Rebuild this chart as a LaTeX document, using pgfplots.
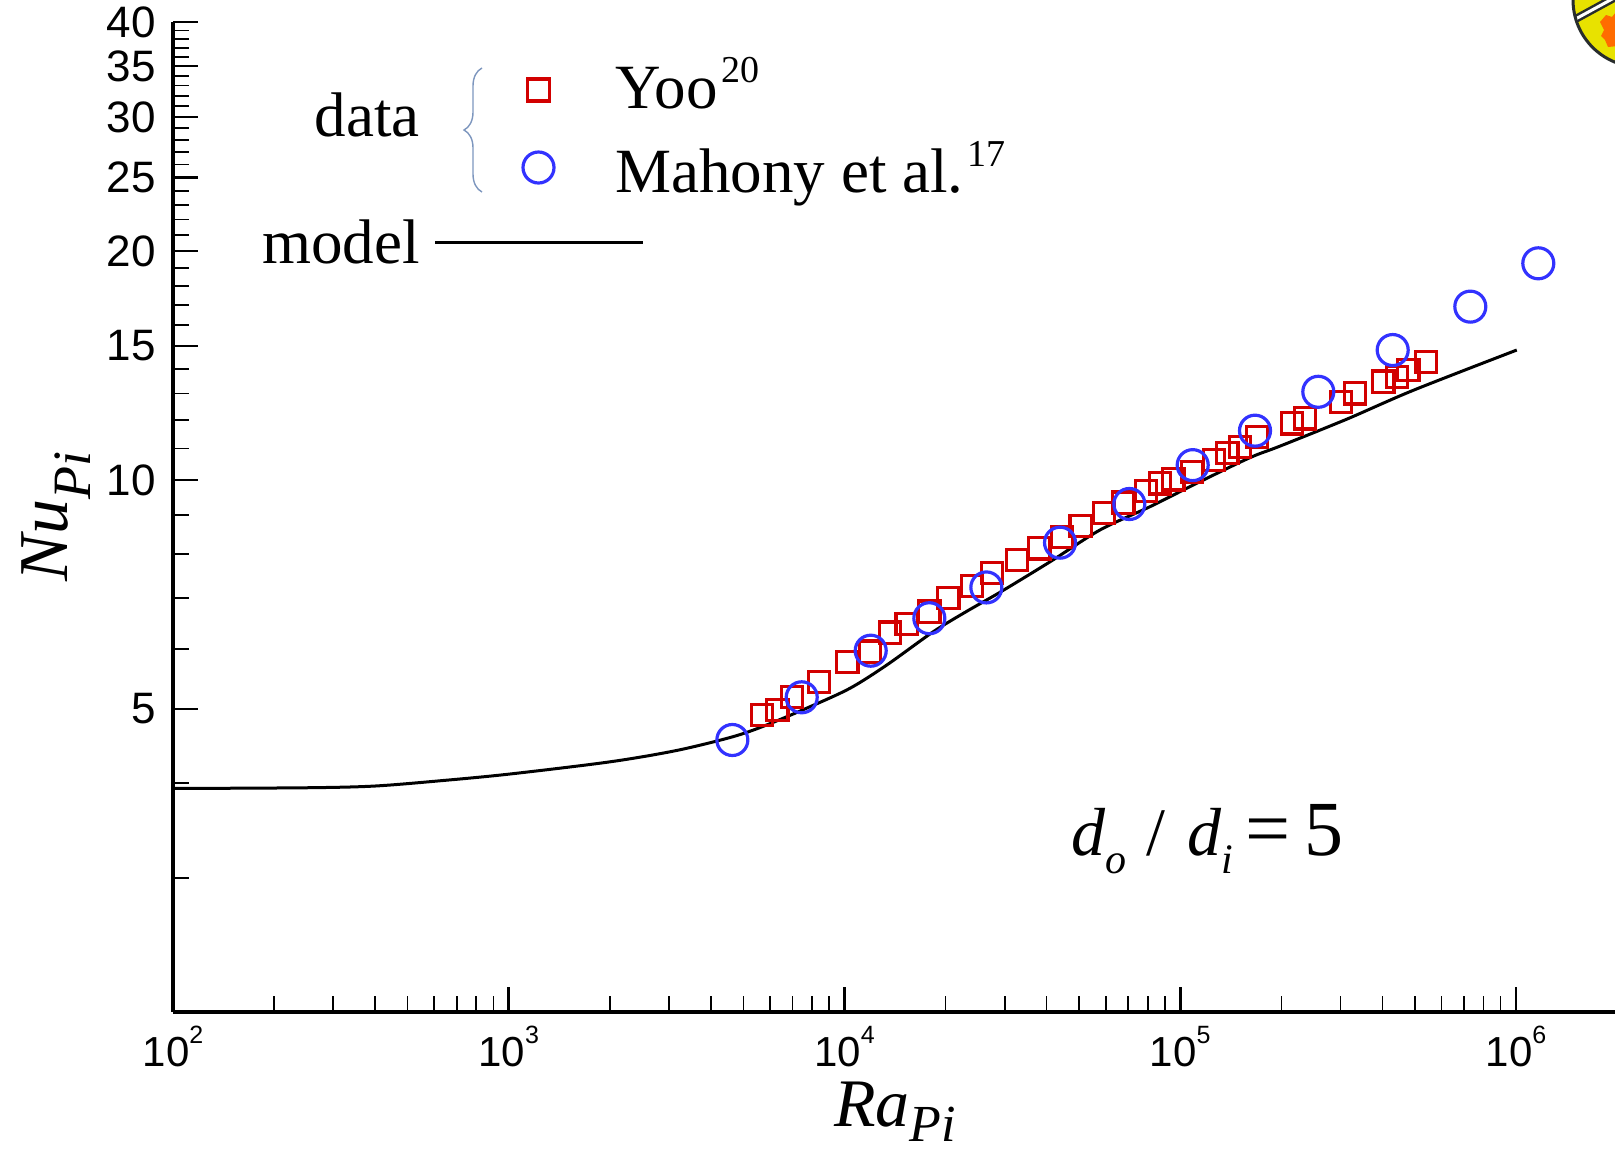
\documentclass[border=0pt]{standalone}
\usepackage{fontspec}
\setmainfont{Liberation Serif}
\newfontfamily\arialfont{Liberation Sans}
\usepackage{pgfplots}
\pgfplotsset{compat=1.18}
\usetikzlibrary{decorations.pathreplacing}

\definecolor{yoored}{RGB}{210,0,0}
\definecolor{mahblue}{RGB}{50,50,255}
\definecolor{bracecol}{RGB}{125,150,190}
\definecolor{crestyellow}{RGB}{232,226,0}
\definecolor{crestdark}{RGB}{40,45,45}

% power-of-ten tick label in the sans face
\newcommand{\tenpow}[1]{10\raisebox{0.55em}{\fontsize{12.5}{12.5}\selectfont #1}}

% Yoo: Ra_Pi, Nu_Pi
\pgfplotstableread{
ra      nu
5668    4.911
6308    4.984
6961    5.189
8398    5.422
10193   5.769
11910   5.947
13657   6.299
15317   6.467
17890   6.713
20380   6.991
23920   7.256
27440   7.542
32570   7.850
38040   8.131
44360   8.408
50510   8.700
59290   9.043
67680   9.336
79070   9.681
87010   9.90
95340   10.02
108170  10.25
126050  10.62
138070  10.86
150650  11.06
168930  11.38
214720  11.87
235200  12.05
300600  12.67
331500  13.00
402500  13.47
441300  13.67
477800  13.95
539500  14.30
}\yoo

% Mahony et al.: Ra_Pi, Nu_Pi
\pgfplotstableread{
ra       nu
4634     4.552
7457     5.180
11967    5.965
17890    6.581
26450    7.224
43840    8.272
70520    9.299
108900   10.46
166950   11.61
257700   13.06
429200   14.82
730900   16.90
1165000  19.27
}\mahony

% model curve
\pgfplotstableread{
ra       nu
100      3.931
251      3.940
398      3.960
631      4.025
1000     4.105
1995     4.260
3162     4.410
4656     4.598
5865     4.764
7898     5.035
10385    5.324
13355    5.711
18387    6.318
23120    6.720
29060    7.120
40940    7.807
57680    8.597
81260    9.224
114500   9.95
161300   10.70
198200   11.08
313100   12.02
494500   13.12
1005000  14.82
}\model

\begin{document}
\begin{tikzpicture}
\useasboundingbox (0,0) rectangle (807.5pt,-576.5pt);
\begin{axis}[
  at={(86.5pt,-505.85pt)}, anchor=south west,
  scale only axis, width=721pt, height=494.85pt,
  xmode=log, ymode=log,
  xmin=100, xmax=1.972e6, ymin=2, ymax=40,
  axis lines*=left,
  axis line style={line width=2pt},
  tick pos=left, tick align=inside,
  xtick={100,1000,10000,100000,1000000},
  xticklabels={\tenpow{2},\tenpow{3},\tenpow{4},\tenpow{5},\tenpow{6}},
  minor xtick={200,300,400,500,600,700,800,900,
               2000,3000,4000,5000,6000,7000,8000,9000,
               20000,30000,40000,50000,60000,70000,80000,90000,
               200000,300000,400000,500000,600000,700000,800000,900000},
  ytick={5,10,15,20,25,30,35,40},
  yticklabels={5,10,15,20,25,30,35,40},
  minor ytick={3,4,6,7,8,9,11,12,13,14,16,17,18,19,
               21,22,23,24,26,27,28,29,31,32,33,34,36,37,38,39},
  major tick length=12.5pt, minor tick length=7.8pt,
  every major tick/.append style={line width=1.3pt, black},
  every minor tick/.append style={line width=0.8pt, black},
  xticklabel style={font=\arialfont\fontsize{21}{21}\selectfont, inner sep=0pt},
  xticklabel shift=7pt,
  yticklabel style={font=\arialfont\fontsize{22}{22}\selectfont, inner sep=0pt},
  yticklabel shift=8.5pt,
]
\addplot[only marks, mark=square, mark size=5.3pt, yoored,
         mark options={line width=1.6pt}] table[x=ra, y=nu] {\yoo};
\addplot[only marks, mark=o, mark size=7.75pt, mahblue,
         mark options={line width=1.6pt}] table[x=ra, y=nu] {\mahony};
\addplot[black, line width=1.5pt, smooth, no marks] table[x=ra, y=nu] {\model};
\end{axis}

\begin{scope}[x=0.5pt, y=-0.5pt]
  % legend block
  \node[anchor=base east, inner sep=0pt, font=\fontsize{31.5}{31.5}\selectfont] at (420,136.5) {data};
  \node[anchor=base east, inner sep=0pt, font=\fontsize{31.5}{31.5}\selectfont] at (420,263) {model};
  \draw[bracecol, line width=0.7pt, decorate, decoration={brace, amplitude=9pt}] (482,192) -- (482,68);
  \draw[yoored, line width=1.6pt] (527.5,79) rectangle (549.5,101);
  \draw[mahblue, line width=1.6pt] (538.5,167.5) circle[radius=7.75pt];
  \draw[black, line width=1.5pt] (435,242) -- (643,242);
  \node[anchor=base west, inner sep=0pt, font=\fontsize{31.5}{31.5}\selectfont] at (615,108)
    {Yoo\hspace{2pt}\raisebox{13pt}{\fontsize{19}{19}\selectfont 20}};
  \node[anchor=base west, inner sep=0pt, font=\fontsize{31.5}{31.5}\selectfont] at (615,192)
    {Mahony et al.\hspace{2pt}\raisebox{13pt}{\fontsize{19}{19}\selectfont 17}};

  % diameter ratio
  \node[anchor=base west, inner sep=0pt, font=\fontsize{34}{34}\selectfont] at (1071,855)
    {\textit{d}\raisebox{-9pt}{\fontsize{21}{21}\selectfont\textit{o}}\hspace{10pt}/\hspace{11pt}\textit{d}\raisebox{-9pt}{\fontsize{21}{21}\selectfont\textit{i}}\hspace{6pt}{\fontsize{40}{40}\selectfont=}\hspace{7pt}{\fontsize{39}{39}\selectfont 5}};

  % axis titles
  \node[anchor=base west, inner sep=0pt, font=\fontsize{34}{34}\selectfont] at (834,1126)
    {\textit{Ra}\raisebox{-7.5pt}{\fontsize{26}{26}\selectfont\textit{Pi}}};
  \node[rotate=90, anchor=base west, inner sep=0pt, font=\fontsize{35}{35}\selectfont] at (67,582)
    {\textit{Nu}\raisebox{-11.5pt}{\fontsize{27}{27}\selectfont\textit{Pi}}};

  % crest in the corner
  \begin{scope}
    \clip (1640,0) circle[radius=33.5pt];
    \fill[crestyellow] (1640,0) circle[radius=33.5pt];
    \draw[crestdark, line width=4pt] (1570,22) -- (1625,-8);
    \draw[white, line width=1.5pt] (1570,22) -- (1625,-8);
    \fill[orange!85!red] (1600,22) -- (1606,15) -- (1612,17) -- (1616,12) -- (1618,46)
      -- (1608,47) -- (1605,40) -- (1601,36) -- (1604,30) -- cycle;
  \end{scope}
  \draw[crestdark, line width=1.5pt] (1640,0) circle[radius=33.5pt];
\end{scope}
\end{tikzpicture}
\end{document}
